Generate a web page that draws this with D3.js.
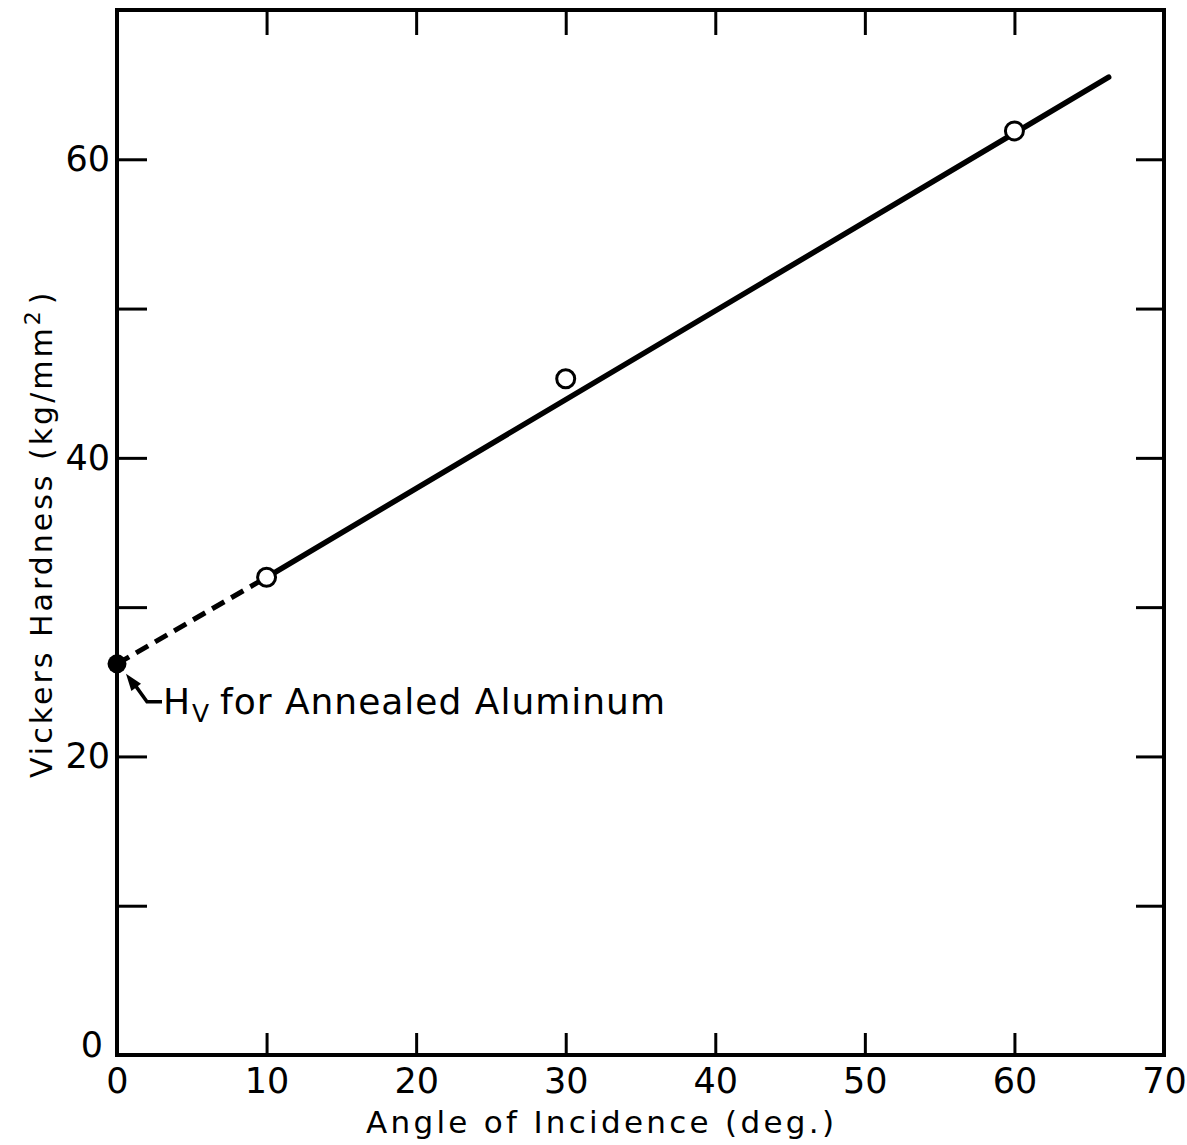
<!DOCTYPE html>
<html>
<head>
<meta charset="utf-8">
<script src="https://cdn.jsdelivr.net/npm/d3@7"></script>
<style>
  html, body { margin: 0; padding: 0; background: #fff; }
  svg { display: block; }
  text { font-family: "DejaVu Sans", sans-serif; fill: #000; }
</style>
</head>
<body>
<svg id="chart" width="1187" height="1145"></svg>
<script>
// Measured hardness at each angle of incidence
const angles = [10, 30, 60];
const hardness = [32.0, 45.3, 61.9];

// Annealed aluminum reference value (at 0°)
const annealedAngle = [0];
const annealedHv = [26.2];

// Straight-line fit: solid over the measured range, dashed extrapolation to 0°
const fitAngles = [10, 66.3];
const fitHv = [32.0, 65.5];
const extrapAngles = [0, 10];
const extrapHv = [26.2, 32.0];

// Axis ticks
const xTicks = [0, 10, 20, 30, 40, 50, 60, 70];
const yTicks = [0, 10, 20, 30, 40, 50, 60];
const yLabelled = [0, 20, 40, 60];

const svg = d3.select("#chart");
const plotLeft = 117, plotRight = 1164, plotTop = 10, plotBottom = 1055;

const x = d3.scaleLinear().domain([0, 70]).range([plotLeft, plotRight]);
const y = d3.scaleLinear().domain([0, 70]).range([plotBottom, plotTop]);

// Frame
svg.append("rect")
  .attr("x", plotLeft).attr("y", plotTop)
  .attr("width", plotRight - plotLeft).attr("height", plotBottom - plotTop)
  .attr("fill", "none").attr("stroke", "#000").attr("stroke-width", 4);

function styleAxis(g) {
  g.select(".domain").remove();
  g.selectAll(".tick line").attr("stroke", "#000").attr("stroke-width", 3);
  g.selectAll(".tick text").attr("font-size", 35).attr("fill", "#000")
    .attr("font-family", "DejaVu Sans, sans-serif");
}

// Bottom axis with labels, ticks pointing inward
svg.append("g").attr("transform", `translate(0,${plotBottom})`)
  .call(d3.axisBottom(x).tickValues(xTicks).tickSizeInner(-22).tickSizeOuter(0)
    .tickPadding(13).tickFormat(d3.format("d")))
  .call(styleAxis)
  .call(g => g.selectAll(".tick").filter(d => d === 0 || d === 70).select("line").remove());

// Top axis, ticks only
svg.append("g").attr("transform", `translate(0,${plotTop})`)
  .call(d3.axisTop(x).tickValues(xTicks.slice(1, -1)).tickSizeInner(-25).tickSizeOuter(0)
    .tickFormat(""))
  .call(styleAxis);

// Left axis with labels at every other tick
svg.append("g").attr("transform", `translate(${plotLeft},0)`)
  .call(d3.axisLeft(y).tickValues(yTicks).tickSizeInner(-30).tickSizeOuter(0)
    .tickPadding(7).tickFormat(d => yLabelled.includes(d) ? d3.format("d")(d) : ""))
  .call(styleAxis)
  .call(g => g.selectAll(".tick").filter(d => d === 0).select("line").remove())
  .call(g => g.selectAll(".tick").filter(d => d === 0).select("text").attr("dy", "0.05em").attr("dx", "-0.2em"));

// Right axis, ticks only
svg.append("g").attr("transform", `translate(${plotRight},0)`)
  .call(d3.axisRight(y).tickValues(yTicks.slice(1)).tickSizeInner(-28).tickSizeOuter(0)
    .tickFormat(""))
  .call(styleAxis);

// Axis titles
svg.append("text")
  .attr("x", 366).attr("y", 1133)
  .attr("font-size", 31)
  .attr("textLength", 468).attr("lengthAdjust", "spacing")
  .text("Angle of Incidence (deg.)");

const yTitle = svg.append("text")
  .attr("transform", "translate(52,778) rotate(-90)")
  .attr("font-size", 30)
  .attr("letter-spacing", 3);
yTitle.append("tspan").text("Vickers Hardness  (kg/mm");
yTitle.append("tspan").attr("font-size", 22).attr("dy", -12).text("2");
yTitle.append("tspan").attr("dy", 12).attr("dx", 4).text(")");

// Fit lines
const line = d3.line().x(d => x(d[0])).y(d => y(d[1]));
svg.append("path")
  .datum(extrapAngles.map((a, i) => [a, extrapHv[i]]))
  .attr("d", line)
  .attr("fill", "none").attr("stroke", "#000").attr("stroke-width", 5)
  .attr("stroke-dasharray", "14,8");
svg.append("path")
  .datum(fitAngles.map((a, i) => [a, fitHv[i]]))
  .attr("d", line)
  .attr("fill", "none").attr("stroke", "#000").attr("stroke-width", 5.5)
  .attr("stroke-linecap", "round");

// Measured points (open circles)
svg.selectAll("circle.meas")
  .data(angles.map((a, i) => [a, hardness[i]]))
  .join("circle").attr("class", "meas")
  .attr("cx", d => x(d[0])).attr("cy", d => y(d[1])).attr("r", 9)
  .attr("fill", "#fff").attr("stroke", "#000").attr("stroke-width", 3);

// Annealed reference point (filled)
svg.selectAll("circle.ref")
  .data(annealedAngle.map((a, i) => [a, annealedHv[i]]))
  .join("circle").attr("class", "ref")
  .attr("cx", d => x(d[0])).attr("cy", d => y(d[1])).attr("r", 9.5)
  .attr("fill", "#000");

// Annotation arrow and label
const px = x(annealedAngle[0]), py = y(annealedHv[0]);
const tip = [px + 9, py + 10];
svg.append("path")
  .attr("d", `M${px + 45},${py + 38} L${px + 30},${py + 38} L${tip[0] + 6},${tip[1] + 7}`)
  .attr("fill", "none").attr("stroke", "#000").attr("stroke-width", 3.5);
{
  const ang = Math.atan2((py + 38) - tip[1], (px + 30) - tip[0]);
  const len = 17, half = 6;
  const bx = tip[0] + len * Math.cos(ang), by = tip[1] + len * Math.sin(ang);
  const nx = -Math.sin(ang) * half, ny = Math.cos(ang) * half;
  svg.append("path")
    .attr("d", `M${tip[0]},${tip[1]} L${bx + nx},${by + ny} L${bx - nx},${by - ny} Z`)
    .attr("fill", "#000");
}
const ann = svg.append("text").attr("x", px + 46).attr("y", py + 50).attr("font-size", 36);
ann.append("tspan").text("H");
ann.append("tspan").attr("font-size", 25).attr("dy", 8).attr("dx", 2).text("V");
svg.append("text").attr("x", px + 103).attr("y", py + 50).attr("font-size", 36)
  .attr("textLength", 445).attr("lengthAdjust", "spacing")
  .text("for  Annealed  Aluminum");
</script>
</body>
</html>
